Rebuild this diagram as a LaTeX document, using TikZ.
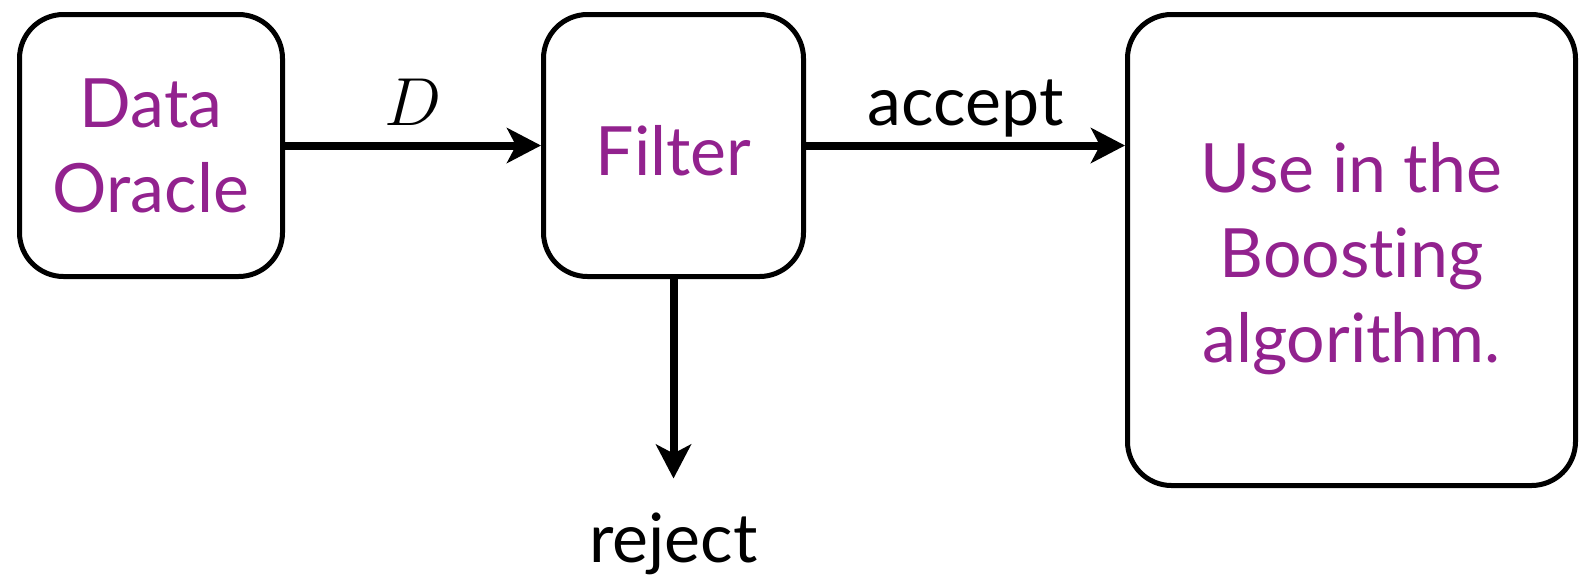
\RequirePackage{fix-cm}
\documentclass[tikz,border=0pt]{standalone}
\usepackage{fontspec}
\setmainfont[Ligatures=NoCommon]{Lato}
\usetikzlibrary{positioning,arrows.meta}
\definecolor{boxpurple}{RGB}{146,34,142}
\tikzset{
  blk/.style={draw,line width=2.5pt,rounded corners=22pt,align=center,text=boxpurple,inner sep=0pt,font=\fontsize{34}{42.5}\selectfont},
  lbl/.style={inner sep=0pt,font=\fontsize{34}{42.5}\selectfont},
  flow/.style={-{Stealth[length=17pt,width=17.5pt,inset=4.5pt]},line width=4pt},
}

\begin{document}
\begin{tikzpicture}
  \useasboundingbox (0,0) rectangle (790pt,-290pt);
  % the three stages
  \node[blk,minimum width=131.5pt,minimum height=131pt] (oracle) at (75.5pt,-72.75pt) {Data\\Oracle};
  \node[blk,minimum width=130pt,minimum height=131pt,text height=30pt,right=128pt of oracle] (filter) {Filter};
  \node[blk,minimum width=224pt,minimum height=235.5pt,text height=119pt,right=159.5pt of filter.north east,anchor=north west] (boost) {Use in the\\Boosting\\algorithm.};

  % rejected samples leave downwards
  \coordinate[below=99.75pt of filter.south] (rejend);
  \node[lbl,below=17pt of rejend] (rej) {reject};

  \draw[flow] (oracle) -- node[lbl,above=8pt] {$D$} (filter);
  \draw[flow] (filter) -- node[lbl,above=2pt] {accept} (filter -| boost.west);
  \draw[flow] (filter) -- (rejend);
\end{tikzpicture}
\end{document}
